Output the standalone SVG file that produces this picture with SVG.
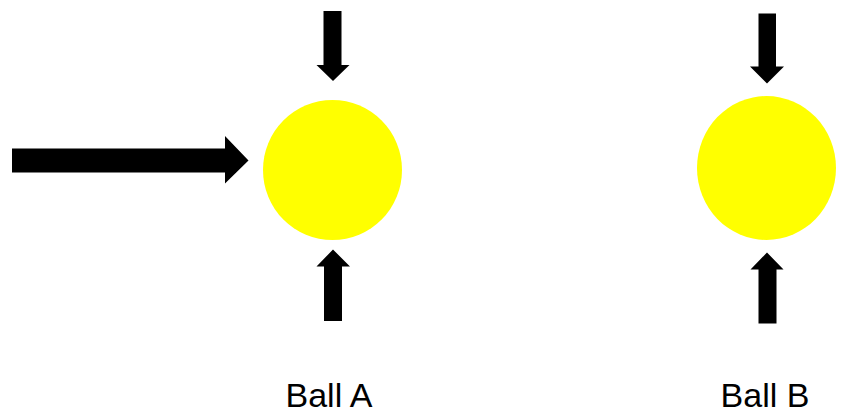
<svg xmlns="http://www.w3.org/2000/svg" width="843" height="415" viewBox="0 0 843 415">
<style>
.ball{fill:#ffff00}
.arr{fill:#000}
.lbl{font-family:"Liberation Sans",Arial,sans-serif;font-size:34px;fill:#000;text-anchor:middle}
</style>
<rect width="843" height="415" fill="#fff"/>
<g id="ballA">
<ellipse class="ball" cx="332.5" cy="170" rx="69.5" ry="70"/>
<text class="lbl" x="329" y="407">Ball A</text>
</g>
<g id="ballB">
<ellipse class="ball" cx="766.5" cy="168" rx="69.5" ry="72"/>
<text class="lbl" x="765" y="407">Ball B</text>
</g>
<g id="connectors">
<polygon class="arr" points="12,148.5 225,148.5 225,136 248.5,160.5 225,183.5 225,172.5 12,172.5"/>
<polygon class="arr" points="323.5,11 341.5,11 341.5,65 349.5,65 333,81 316.5,65 323.5,65"/>
<polygon class="arr" points="324,321 342,321 342,266.5 350,266.5 333,249.5 316.5,266.5 324,266.5"/>
<polygon class="arr" points="758.5,13.5 776,13.5 776,66.5 784,66.5 767,83.5 750,66.5 758.5,66.5"/>
<polygon class="arr" points="758.5,323.5 776.5,323.5 776.5,269.5 783.5,269.5 767,252.5 750.5,269.5 758.5,269.5"/>
</g>
</svg>
